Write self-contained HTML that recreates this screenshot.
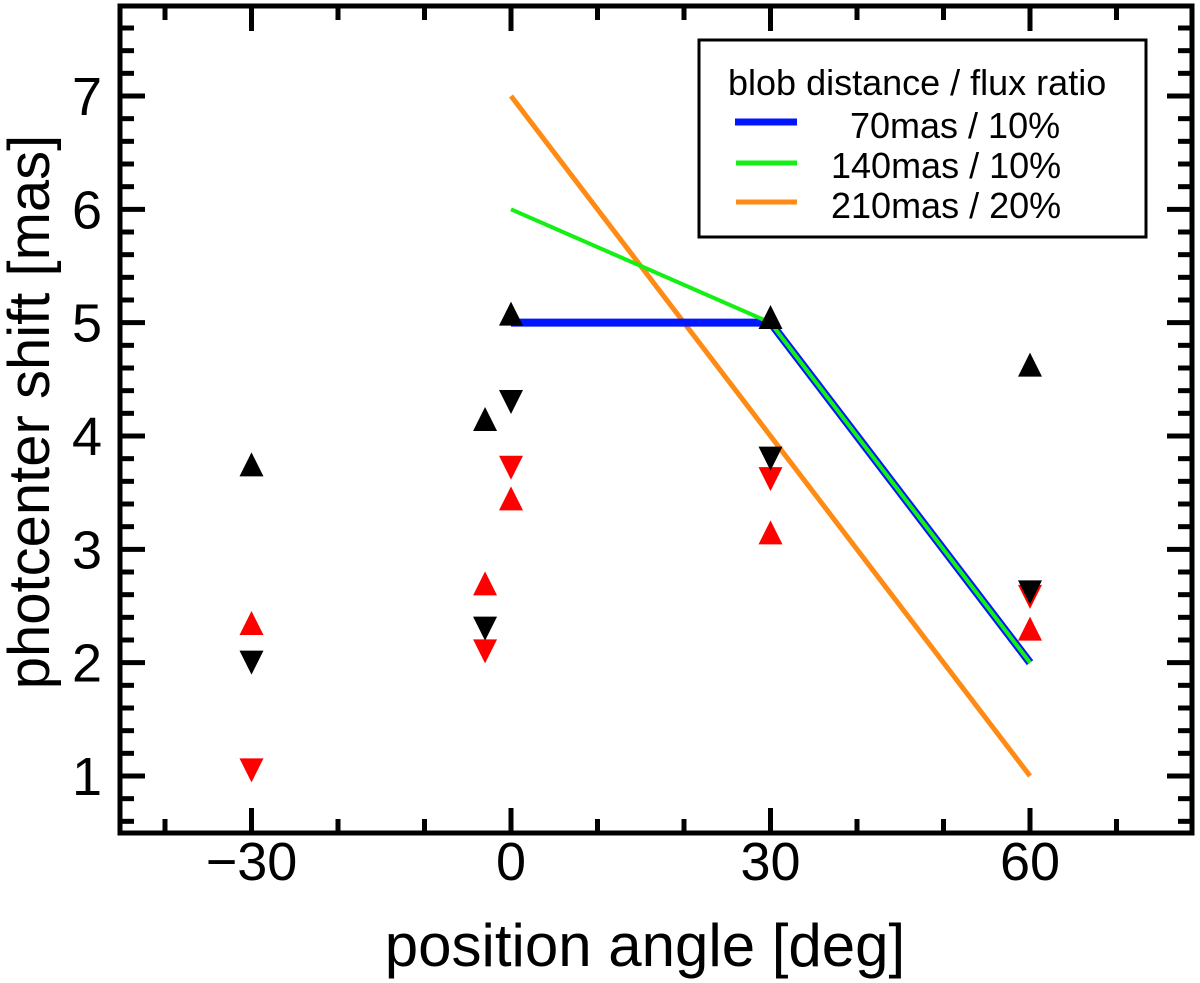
<!DOCTYPE html>
<html><head><meta charset="utf-8"><style>
html,body{margin:0;padding:0;background:#fff;}
svg{display:block;font-family:"Liberation Sans",Arial,sans-serif;}
</style></head><body>
<svg id="chart" width="1200" height="983" viewBox="0 0 1200 983" xmlns="http://www.w3.org/2000/svg">
<g id="ticks"></g>
<g id="lines"></g>
<g id="marks"></g>
<rect x="120" y="6" width="1072" height="827" fill="none" stroke="#000" stroke-width="5"/>
<g id="labels" font-size="54"></g>
<text x="645" y="966" font-size="60" text-anchor="middle">position angle [deg]</text>
<text transform="translate(49,412) rotate(-90)" font-size="58" text-anchor="middle">photcenter shift [mas]</text>
<g>
<rect x="699" y="40" width="447" height="197" fill="#fff" stroke="#000" stroke-width="3"/>
<text x="728" y="95" font-size="36">blob distance / flux ratio</text>
<line x1="735" y1="122" x2="797" y2="122" stroke="#0015ff" stroke-width="7"/>
<text x="850" y="138" font-size="36">70mas / 10%</text>
<line x1="736" y1="163" x2="797" y2="163" stroke="#14f014" stroke-width="5"/>
<text x="831" y="178" font-size="36">140mas / 10%</text>
<line x1="736" y1="202" x2="797" y2="202" stroke="#ff8a14" stroke-width="5"/>
<text x="831" y="218" font-size="36">210mas / 20%</text>
</g>
</svg>
<script>
const xTicks=[-30,0,30,60];
const yTicks=[1,2,3,4,5,6,7];
const blackUpX=[-30,-3,0,30,60];
const blackUpY=[3.75,4.15,5.08,5.05,4.63];
const blackDownX=[-30,-3,0,30,60];
const blackDownY=[2.0,2.3,4.3,3.8,2.62];
const redUpX=[-30,-3,0,30,60];
const redUpY=[2.35,2.7,3.45,3.15,2.3];
const redDownX=[-30,-3,0,30,60];
const redDownY=[1.05,2.1,3.72,3.62,2.58];
const blueX=[0,30,60], blueY=[5,5,2];
const greenX=[0,30,60], greenY=[6,5,2];
const orangeX=[0,60], orangeY=[7,1];

const NS="http://www.w3.org/2000/svg";
function sx(v){return 511+v*(519/60);}
function sy(v){return 776-(v-1)*(680/6);}
function mk(tag,attrs,parent){const e=document.createElementNS(NS,tag);for(const k in attrs)e.setAttribute(k,attrs[k]);parent.appendChild(e);return e;}
const T=document.getElementById('ticks'),L=document.getElementById('labels'),Ln=document.getElementById('lines'),M=document.getElementById('marks');
for(let d=-40;d<=70;d+=10){const X=sx(d);const major=d%30===0;const len=major?25:14;
 const t1=mk('line',{x1:X,y1:833,x2:X,y2:833-len,stroke:'#000','stroke-width':5},T);
 
 
 const t2=mk('line',{x1:X,y1:6,x2:X,y2:6+len,stroke:'#000','stroke-width':5},T);
 
 }
for(let i=3;i<=38;i++){const v=i/5;const Y=sy(v);if(Y<8||Y>831)continue;const major=i%5===0;const len=major?25:14;
 const t1=mk('line',{x1:120,y1:Y,x2:120+len,y2:Y,stroke:'#000','stroke-width':5},T);
 
 
 const t2=mk('line',{x1:1192,y1:Y,x2:1192-len,y2:Y,stroke:'#000','stroke-width':5},T);
 
 }
xTicks.forEach(v=>{const t=mk('text',{x:sx(v),y:880,'text-anchor':'middle'},L);t.textContent=v<0?'\u2212'+Math.abs(v):String(v);
 
 });
yTicks.forEach(v=>{const t=mk('text',{x:102,y:sy(v)+19,'text-anchor':'end'},L);t.textContent=String(v);
 
 });
function line(xs,ys,color,w,name){const p=mk('polyline',{points:xs.map((x,i)=>sx(x)+','+sy(ys[i])).join(' '),fill:'none',stroke:color,'stroke-width':w},Ln);
 
 }
line(orangeX,orangeY,'#ff8a14',5,'line-210mas');
line(blueX,blueY,'#0015ff',8,'line-70mas');
line(greenX,greenY,'#14f014',4,'line-140mas');
function tri(xs,ys,color,up,name){xs.forEach((x,i)=>{const X=sx(x),Y=sy(ys[i]);const h=12;
 const pts=up?`${X-12},${Y+h} ${X+12},${Y+h} ${X},${Y-h}`:`${X-12},${Y-h} ${X+12},${Y-h} ${X},${Y+h}`;
 const p=mk('polygon',{points:pts,fill:color},M);
 
 });}
tri(redUpX,redUpY,'#ff0000',true,'red-up-triangle');
tri(redDownX,redDownY,'#ff0000',false,'red-down-triangle');
tri(blackUpX,blackUpY,'#000',true,'black-up-triangle');
tri(blackDownX,blackDownY,'#000',false,'black-down-triangle');
</script>
</body></html>
